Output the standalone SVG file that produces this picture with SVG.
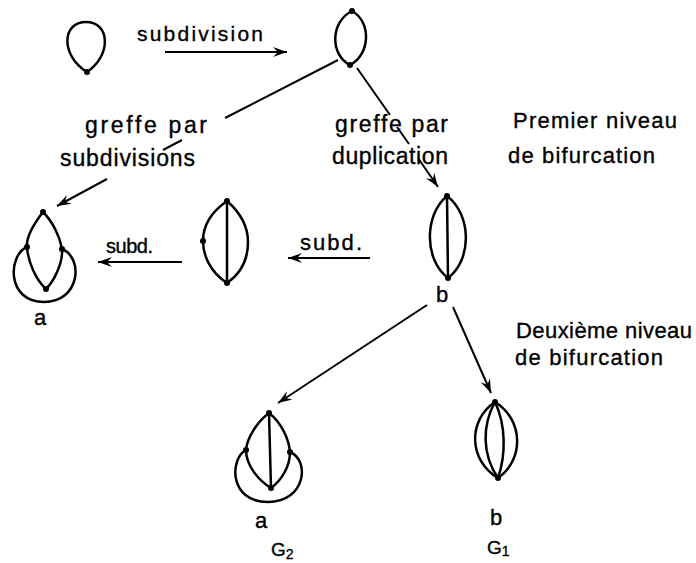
<svg xmlns="http://www.w3.org/2000/svg" width="696" height="563" viewBox="0 0 696 563">
<style>
.t{font-family:"Liberation Sans","DejaVu Sans",sans-serif;fill:#000;stroke:#000;stroke-width:0.35}
.e{fill:none;stroke:#000;stroke-width:2.5;stroke-linecap:round}
.c{fill:none;stroke:#000;stroke-width:2}
.d{fill:#000}
</style>
<defs>
<marker id="ah" viewBox="-15 -6 16 12" refX="0" refY="0" markerWidth="16" markerHeight="12" orient="auto" markerUnits="userSpaceOnUse">
<path d="M-14,-5 L0,0 L-14,5 L-9,0 Z" fill="#000"/>
</marker>
</defs>
<rect width="696" height="563" fill="#fff"/>

<g id="connectors">
<line class="c" x1="165" y1="52" x2="287" y2="52" marker-end="url(#ah)"/>
<path class="c" d="M338,60 L225,118 M182,140 L163,150 M107,179 L57,206" marker-end="url(#ah)"/>
<path class="c" d="M357,68 L390,115 M397,127 L409,144 M418,158 L438,187" marker-end="url(#ah)"/>
<line class="c" x1="182" y1="262" x2="98" y2="262" marker-end="url(#ah)"/>
<line class="c" x1="370" y1="258" x2="288" y2="258" marker-end="url(#ah)"/>
<line class="c" x1="427" y1="305" x2="278" y2="403" marker-end="url(#ah)"/>
<line class="c" x1="453" y1="307" x2="491" y2="393" marker-end="url(#ah)"/>
</g>

<g id="n-loop">
<path class="e" d="M87,72 C60,55 62,22 86,22 C110,22 112,55 87,72 Z"/>
<circle class="d" cx="87" cy="72" r="3"/>
</g>

<g id="n-loop-subdivided">
<path class="e" d="M352,11 C330,22 330,55 350,65 C370,55 372,22 352,11 Z"/>
<circle class="d" cx="352" cy="11" r="3"/>
<circle class="d" cx="350" cy="65" r="3"/>
</g>

<g id="n-a1">
<path class="e" d="M43,212 C33,225 26,238 27,247 C28,262 36,280 46,289"/>
<path class="e" d="M43,212 C53,222 60,237 62,249 C63,262 55,280 46,289"/>
<path class="e" d="M27,247 C8,255 6,302 44,302 C80,302 84,258 62,249"/>
<circle class="d" cx="43" cy="212" r="3"/>
<circle class="d" cx="27" cy="247" r="3"/>
<circle class="d" cx="62" cy="249" r="3"/>
<circle class="d" cx="46" cy="289" r="3"/>
</g>

<g id="n-mid">
<path class="e" d="M227,201 C207,215 203,230 203,241 C203,255 210,272 227,283"/>
<path class="e" d="M227,201 C243,215 248,230 248,242 C248,256 243,272 227,283"/>
<line class="e" x1="227" y1="201" x2="227" y2="283"/>
<circle class="d" cx="227" cy="201" r="3"/>
<circle class="d" cx="203" cy="241" r="3"/>
<circle class="d" cx="227" cy="283" r="3"/>
</g>

<g id="n-b1">
<path class="e" d="M447,196 C424,215 424,260 448,278"/>
<path class="e" d="M447,196 C472,215 472,260 448,278"/>
<line class="e" x1="447" y1="196" x2="448" y2="278"/>
<circle class="d" cx="447" cy="196" r="3"/>
<circle class="d" cx="448" cy="278" r="3"/>
</g>

<g id="n-a2">
<path class="e" d="M269,413 C257,422 247,438 246,450 C246,465 258,480 271,488"/>
<path class="e" d="M269,413 C282,423 289,440 290,452 C290,466 282,480 271,488"/>
<path class="e" d="M246,450 C230,458 228,502 268,502 C306,502 310,460 290,452"/>
<line class="e" x1="269" y1="413" x2="271" y2="488"/>
<circle class="d" cx="269" cy="413" r="3"/>
<circle class="d" cx="246" cy="450" r="3"/>
<circle class="d" cx="290" cy="452" r="3"/>
<circle class="d" cx="271" cy="488" r="3"/>
</g>

<g id="n-b2">
<path class="e" d="M495,402 C468,420 468,460 498,478"/>
<path class="e" d="M495,402 C524,420 524,460 498,478"/>
<path class="e" d="M495,402 C482,425 482,455 498,478"/>
<path class="e" d="M495,402 C506,425 506,455 498,478"/>
<circle class="d" cx="495" cy="402" r="3"/>
<circle class="d" cx="498" cy="478" r="3"/>
</g>

<g id="labels">
<text class="t" x="137" y="41" font-size="21" textLength="126" lengthAdjust="spacing">subdivision</text>
<text class="t" x="85" y="133" font-size="23" textLength="122" lengthAdjust="spacing">greffe par</text>
<text class="t" x="60" y="166" font-size="23" textLength="135" lengthAdjust="spacing">subdivisions</text>
<text class="t" x="335" y="132" font-size="23" textLength="113" lengthAdjust="spacing">greffe par</text>
<text class="t" x="332" y="164" font-size="23" textLength="116" lengthAdjust="spacing">duplication</text>
<text class="t" x="513" y="128" font-size="22" textLength="164" lengthAdjust="spacing">Premier niveau</text>
<text class="t" x="508" y="163" font-size="22" textLength="147" lengthAdjust="spacing">de bifurcation</text>
<text class="t" x="516" y="338" font-size="22" textLength="176" lengthAdjust="spacing">Deuxième niveau</text>
<text class="t" x="515" y="365" font-size="22" textLength="148" lengthAdjust="spacing">de bifurcation</text>
<text class="t" x="106" y="253" font-size="20" textLength="47" lengthAdjust="spacing">subd.</text>
<text class="t" x="300" y="250" font-size="22" textLength="62" lengthAdjust="spacing">subd.</text>
<text class="t" x="40" y="325" font-size="22" text-anchor="middle">a</text>
<text class="t" x="442" y="302" font-size="22" text-anchor="middle">b</text>
<text class="t" x="261" y="528" font-size="22" text-anchor="middle">a</text>
<text class="t" x="496" y="525" font-size="22" text-anchor="middle">b</text>
<text class="t" x="271" y="556" font-size="19">G<tspan font-size="14" dy="3">2</tspan></text>
<text class="t" x="487" y="554" font-size="19">G<tspan font-size="14" dy="2">1</tspan></text>
</g>
</svg>
